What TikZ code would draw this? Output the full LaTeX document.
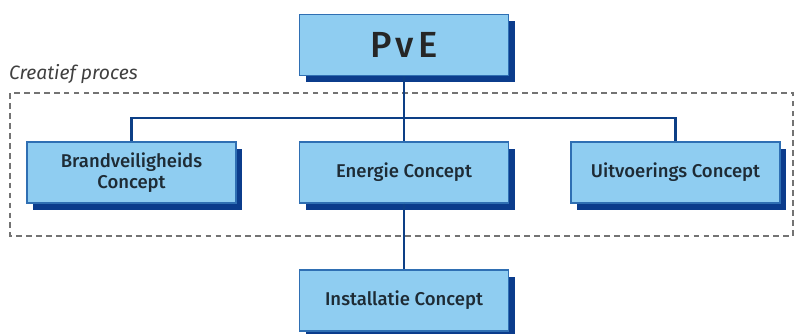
\documentclass[tikz,border=0pt]{standalone}
\usepackage{fontspec}
\setmainfont{Fira Sans Medium}[ItalicFont=Fira Sans Italic]
\usetikzlibrary{shadows}

\definecolor{vakblauw}{HTML}{8FCDF1}
\definecolor{randblauw}{HTML}{2F6FB3}
\definecolor{schaduwblauw}{HTML}{0B3C8C}
\definecolor{lijnblauw}{HTML}{0D3F86}
\definecolor{tekstgrijs}{HTML}{1E2B35}

\begin{document}
\begin{tikzpicture}[x=0.03cm, y=-0.03cm,
    vak/.style={draw=randblauw, line width=1.1pt, fill=vakblauw,
      minimum width=6.27cm, minimum height=1.83cm, align=center,
      text=tekstgrijs, font=\fontsize{15.8}{18}\selectfont,
      drop shadow={shadow xshift=0.18cm, shadow yshift=-0.2cm,
        opacity=1, fill=schaduwblauw}},
    verbinding/.style={draw=lijnblauw, line width=2.4pt},
    procesgrens/.style={draw=black!55, dashed, line width=1.1pt,
      dash pattern=on 5pt off 3.5pt}]

    \useasboundingbox (0,0) rectangle (795,333);

    % --- creatief proces (gestippeld kader) ---
    \draw[procesgrens] (10,93) rectangle (793,236);
    \node[anchor=south west, inner sep=0pt, text=black!75,
      font=\itshape\fontsize{16.5}{18}\selectfont] (label) at (9,84) {Creatief proces};

    % --- vakken ---
    \node[vak, text=black!85,
      font=\fontsize{31}{33}\selectfont\addfontfeature{LetterSpace=12}] (pve) at (404,45) {PvE};
    \node[vak] (brand) at (131.5,172.5) {Brandveiligheids\\Concept};
    \node[vak] (energie) at (404,172.5) {Energie Concept};
    \node[vak] (uitvoering) at (675.5,172.5) {Uitvoerings Concept};
    \node[vak] (installatie) at (404,300.5) {Installatie Concept};

    \coordinate (bus) at (404,118);

    % --- verbindingen ---
    \draw[verbinding] (pve.south) -- (energie.north);
    \draw[verbinding] (brand.north) |- (bus) -| (uitvoering.north);
    \draw[verbinding] (energie.south) -- (installatie.north);

\end{tikzpicture}
\end{document}
